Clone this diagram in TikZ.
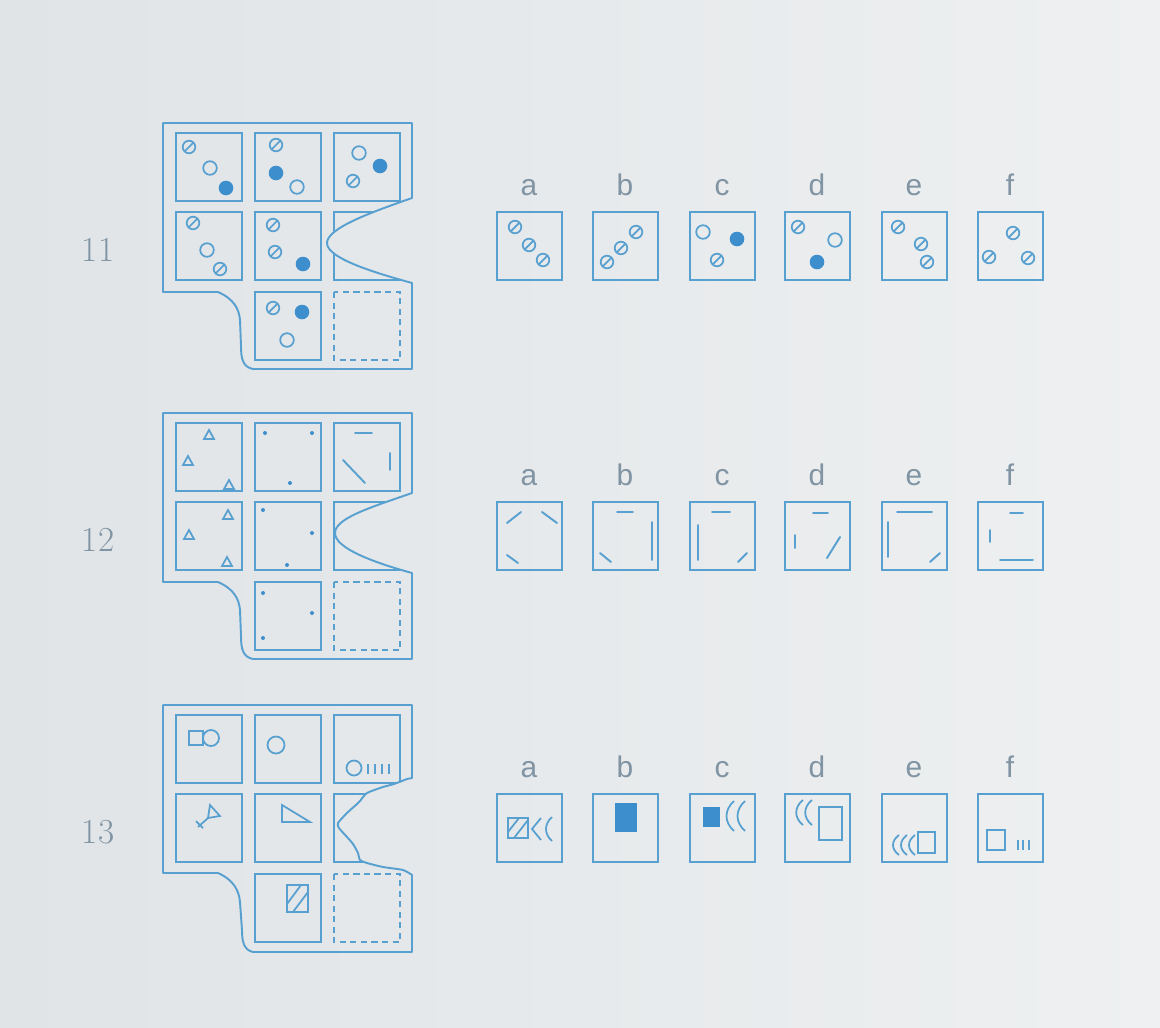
\documentclass[tikz,border=0pt]{standalone}
\usepackage{fontspec}
\newfontfamily\letterfont{Liberation Sans}
\definecolor{paperleft}{RGB}{224,228,231}
\definecolor{paperright}{RGB}{238,240,241}
\definecolor{inkblue}{RGB}{88,160,208}
\definecolor{dotblue}{RGB}{60,143,204}
\definecolor{labelgrey}{RGB}{128,148,163}

% sheet with a smooth notch on the right (tip x, top y of notch)
\newcommand\wavesheet[2]{(163,123) -- (412,123) -- (412,#2)
  .. controls (372,#2+14) and (#1,228) .. (#1,243)
  .. controls (#1,258) and (372,272) .. (412,283)
  -- (412,369) -- (253,369)
  .. controls (243,367) and (241,359) .. (241,346)
  -- (240,320) .. controls (239,309) and (234,299) .. (218,292)
  -- (163,292) -- cycle}
% sheet with a rough tear on the right
\newcommand\tornsheet{(163,123) -- (412,123) -- (412,196) -- (407,197)
  -- plot[smooth, tension=0.4] coordinates {(407,197) (394,202) (383,205) (367,211) (360,219) (357,222) (347,231) (338,241)
     (339,246) (347,255) (353,262) (358,271) (360,278) (367,281) (383,285) (403,288) (412,293)}
  -- (412,370) -- (253,370)
  .. controls (244,368) and (242,360) .. (242,348)
  -- (240,320) .. controls (239,309) and (234,298) .. (218,291)
  -- (163,291) -- cycle}

\begin{document}
\begin{tikzpicture}[x=0.02cm, y=-0.02cm,
  sheet/.style={draw=inkblue, line width=1.1pt, line join=round},
  cellbox/.style={draw=inkblue, line width=1.4pt},
  gapbox/.style={draw=inkblue, line width=1.1pt, dash pattern=on 3.5pt off 2.5pt},
  optbox/.style={draw=inkblue, line width=1.3pt},
  figline/.style={draw=inkblue, line width=1pt},
  stroke/.style={draw=inkblue, line width=1.1pt, line cap=round},
  numlabel/.style={text=labelgrey, font=\fontsize{20}{24}\selectfont, anchor=base},
  optlabel/.style={text=labelgrey, font=\letterfont\fontsize{17}{20}\selectfont, anchor=base}]

  % paper
  \shade[left color=paperleft, right color=paperright] (0,0) rectangle (1160,1028);
  \useasboundingbox (0,0) rectangle (1160,1028);

  % numbers, answer boxes and letters of every row
  \foreach \pn/\sh in {11/0,12/290,13/582}{
    \node[numlabel] (num\pn) at (98,261+\sh) {\pn};
    \foreach \ox/\ol in {529/a,625/b,722/c,817/d,914/e,1010/f}{
      \draw[optbox] (\ox-32,212+\sh) rectangle (\ox+33,280+\sh);
      \node[optlabel] (opt\pn\ol) at (\ox,195+\sh) {\ol};
    }
  }

  % ---------- 11 ----------
  \begin{scope}
    \clip \wavesheet{327}{198};
    \foreach \cx in {176,255,334}
      \foreach \cy in {133,212}
        \draw[cellbox] (\cx,\cy) rectangle ++(66,68);
    \draw[cellbox] (255,292) rectangle ++(66,68);
  \end{scope}
  \draw[gapbox] (334,292) rectangle ++(66,68);
  \draw[sheet] \wavesheet{327}{198};

  % striped discs
  \foreach \p in {(189,147),(276,145),(353,181),(193,223),(220,269),(273,225),(275,252),(273,308),
                  (515,227),(529,245),(543,260),(607,262),(621,248),(636,232),(717,260),(798,227),
                  (898,227),(921,244),(927,262),(989,257),(1013,233),(1028,258)}
    \draw[figline] \p circle (6.3) \p ++(-4,4) -- ++(8,-8);
  % open discs
  \foreach \p in {(210,168),(297,187),(359,153),(207,250),(287,340),(703,232),(835,240)}
    \draw[figline] \p circle (6.8);
  % filled discs
  \foreach \p in {(226,188),(276,173),(380,166),(303,264),(302,312),(737,239),(817,262)}
    \fill[dotblue] \p circle (7.3);

  % ---------- 12 ----------
  \begin{scope}[shift={(0,290)}]
    \begin{scope}
      \clip \wavesheet{335}{203};
      \foreach \cx in {176,255,334}
        \foreach \cy in {133,212}
          \draw[cellbox] (\cx,\cy) rectangle ++(66,68);
      \draw[cellbox] (255,292) rectangle ++(66,68);
    \end{scope}
    \draw[gapbox] (334,292) rectangle ++(66,68);
    \draw[sheet] \wavesheet{335}{203};

    % triangles
    \foreach \p in {(209,145),(188,171),(229,195),(228,225),(189,245),(227,272)}
      \draw[figline] \p ++(-5,4) -- ++(10,0) -- ++(-5,-9) -- cycle;
    % points
    \foreach \p in {(265,143),(312,143),(290,193),(263,220),(312,243),(287,275),(263,303),(312,323),(263,348)}
      \fill[dotblue] \p circle (2);
    % strokes in the third cell
    \draw[stroke] (355,143) -- (372,143);
    \draw[stroke] (390,163) -- (390,180);
    \draw[stroke] (343,170) -- (365,193);

    % answers
    \draw[stroke] (507,233) -- (521,222);   % a
    \draw[stroke] (542,222) -- (557,233);
    \draw[stroke] (507,265) -- (518,273);
    \draw[stroke] (617,222) -- (633,222);   % b
    \draw[stroke] (652,232) -- (652,270);
    \draw[stroke] (600,263) -- (611,272);
    \draw[stroke] (712,222) -- (730,222);   % c
    \draw[stroke] (698,235) -- (698,270);
    \draw[stroke] (738,272) -- (747,263);
    \draw[stroke] (813,223) -- (828,223);   % d
    \draw[stroke] (795,245) -- (795,258);
    \draw[stroke] (827,268) -- (840,247);
    \draw[stroke] (897,222) -- (932,222);   % e
    \draw[stroke] (888,232) -- (888,267);
    \draw[stroke] (930,272) -- (940,263);
    \draw[stroke] (1010,223) -- (1023,223); % f
    \draw[stroke] (990,240) -- (990,252);
    \draw[stroke] (1000,270) -- (1033,270);
  \end{scope}

  % ---------- 13 ----------
  \begin{scope}[shift={(0,582)}]
    \begin{scope}
      \clip \tornsheet;
      \foreach \cx in {176,255,334}
        \foreach \cy in {133,212}
          \draw[cellbox] (\cx,\cy) rectangle ++(66,68);
      \draw[cellbox] (255,292) rectangle ++(66,68);
    \end{scope}
    \draw[gapbox] (334,292) rectangle ++(66,68);
    \draw[sheet] \tornsheet;

    % cells
    \draw[figline] (189,149) rectangle (203,163) (211,156) circle (8);
    \draw[figline] (276,163) circle (8.5);
    \draw[figline] (354,186) circle (7.5);
    \foreach \tx in {368,375,382,389}
      \draw[figline] (\tx,182) -- (\tx,192);
    \draw[figline] (210,223) -- (220,234) -- (208,236) -- cycle;
    \draw[figline] (208,236) -- (198,245);
    \draw[figline] (196,239) -- (203,246);
    \draw[figline] (282,223) -- (282,240) -- (310,240) -- cycle;
    \draw[figline] (287,303) rectangle (308,330);
    \draw[figline] (287,322) -- (301,303) (293,330) -- (308,310);

    % answers
    \draw[figline] (508,236) rectangle (528,256);   % a
    \draw[figline] (508,250) -- (519,236) (514,256) -- (528,238);
    \draw[figline] (541,236) -- (532,247) -- (541,258);
    \draw[figline] (552,235) .. controls (544,242) and (544,252) .. (552,259);
    \fill[dotblue] (615,221) rectangle (637,250);     % b
    \fill[dotblue] (703,225) rectangle (720,245);     % c
    \foreach \bx in {0,11}
      \draw[figline] (734+\bx,219) .. controls (724+\bx,228) and (724+\bx,240) .. (734+\bx,249);
    \draw[figline] (819,225) rectangle (842,258);     % d
    \foreach \bx in {0,9}
      \draw[figline] (803+\bx,218) .. controls (794+\bx,225) and (794+\bx,236) .. (803+\bx,243);
    \draw[figline] (918,250) rectangle (935,271);     % e
    \foreach \bx in {0,8,16}
      \draw[figline] (899+\bx,253) .. controls (891+\bx,259) and (891+\bx,267) .. (899+\bx,273);
    \draw[figline] (987,248) rectangle (1005,268);    % f
    \foreach \tx in {1018,1023,1029}
      \draw[figline] (\tx,258) -- (\tx,268);
  \end{scope}
\end{tikzpicture}
\end{document}
